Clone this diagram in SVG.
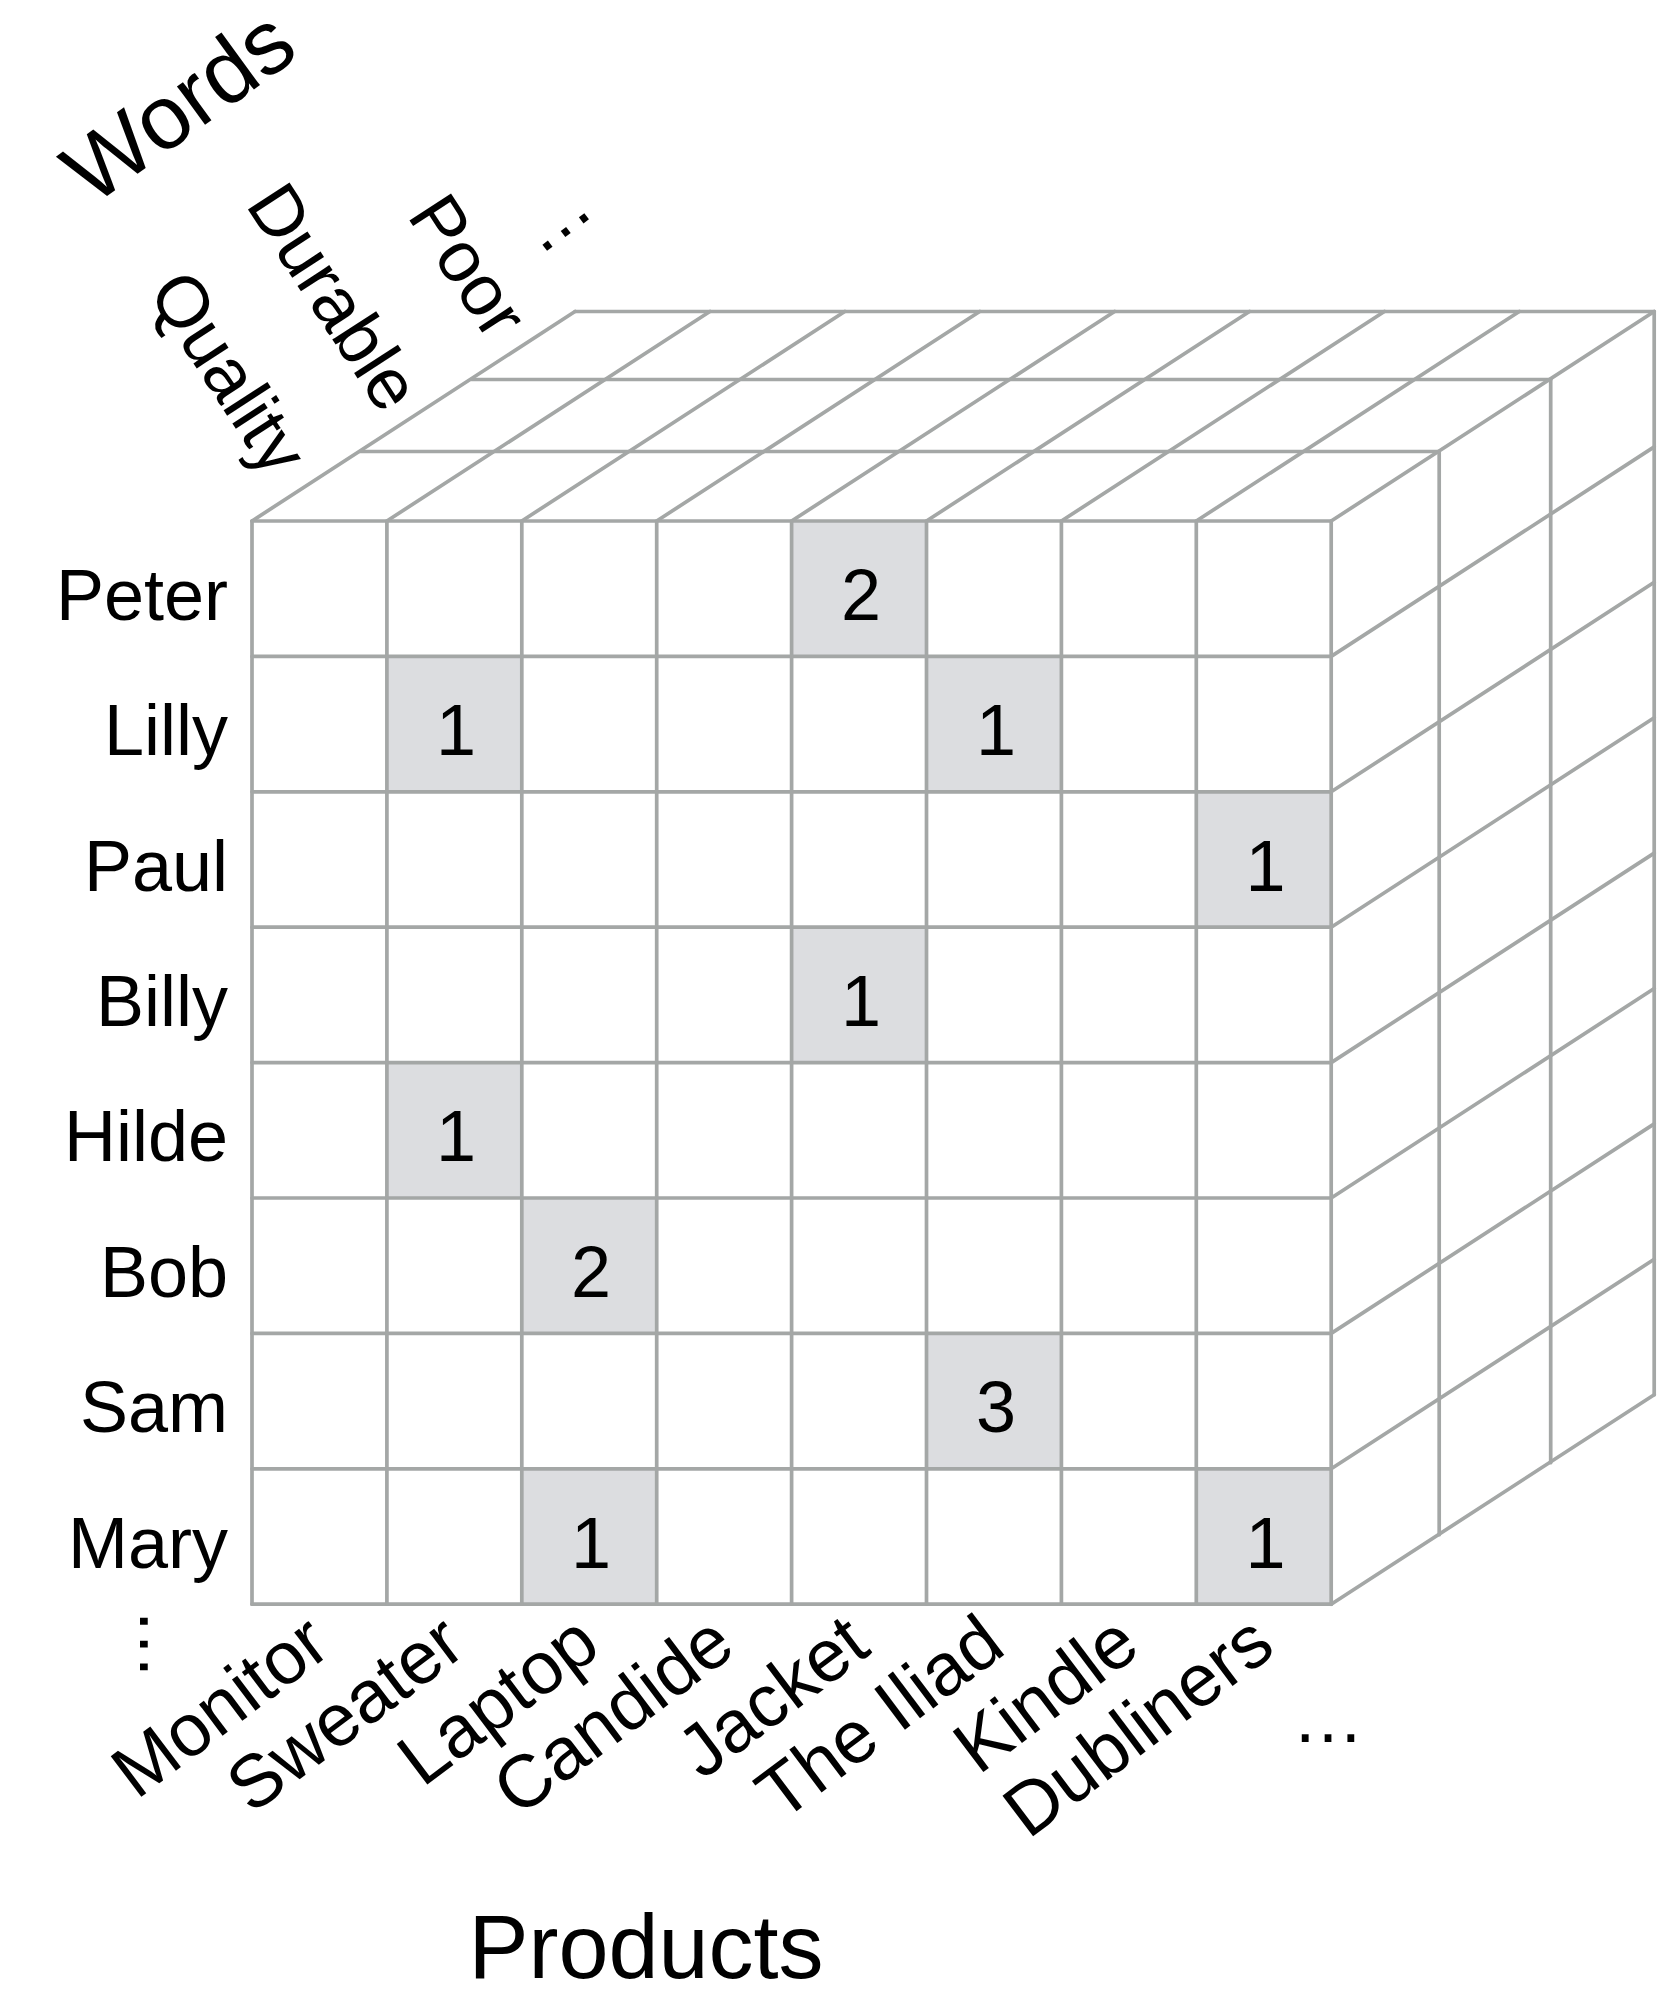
<svg xmlns="http://www.w3.org/2000/svg" width="1671" height="1990" viewBox="0 0 1671 1990">
<style>
.ln{stroke:#a4a7a6;stroke-width:3.7;fill:none;stroke-linecap:round;stroke-linejoin:round}
.sh{fill:#dcdde0}
.t{font-family:"Liberation Sans",Arial,sans-serif;font-size:72px;fill:#000}
.col{font-size:74px}
.big{font-size:90px}
.r{text-anchor:end}
.m{text-anchor:middle}
</style>
<rect x="0" y="0" width="1671" height="1990" fill="#fff"/>
<g id="shaded-cells">
<rect class="sh" x="791.6" y="521" width="134.9" height="135.4"/>
<rect class="sh" x="386.9" y="656.4" width="134.9" height="135.4"/>
<rect class="sh" x="926.5" y="656.4" width="134.9" height="135.4"/>
<rect class="sh" x="1196.3" y="791.8" width="134.9" height="135.4"/>
<rect class="sh" x="791.6" y="927.2" width="134.9" height="135.4"/>
<rect class="sh" x="386.9" y="1062.6" width="134.9" height="135.4"/>
<rect class="sh" x="521.8" y="1198" width="134.9" height="135.4"/>
<rect class="sh" x="926.5" y="1333.4" width="134.9" height="135.4"/>
<rect class="sh" x="521.8" y="1468.8" width="134.9" height="135.4"/>
<rect class="sh" x="1196.3" y="1468.8" width="134.9" height="135.4"/>
</g>
<g id="cube-lines" class="ln">
<path d="M360 451.5H1439.2M471.5 379.5H1550.7M575 311.5H1654.2"/>
<path d="M252 521L575 311.5M386.9 521L709.9 311.5M521.8 521L844.8 311.5M656.7 521L979.7 311.5M791.6 521L1114.6 311.5M926.5 521L1249.5 311.5M1061.4 521L1384.4 311.5M1196.3 521L1519.3 311.5M1331.2 521L1654.2 311.5"/>
<path d="M1439.2 451.5V1534.7M1550.7 379.5V1462.7M1654.2 311.5V1394.7"/>
<path d="M1331.2 656.4L1654.2 446.9M1331.2 791.8L1654.2 582.3M1331.2 927.2L1654.2 717.7M1331.2 1062.6L1654.2 853.1M1331.2 1198L1654.2 988.5M1331.2 1333.4L1654.2 1123.9M1331.2 1468.8L1654.2 1259.3M1331.2 1604.2L1654.2 1394.7"/>
<path d="M252 521H1331.2M252 656.4H1331.2M252 791.8H1331.2M252 927.2H1331.2M252 1062.6H1331.2M252 1198H1331.2M252 1333.4H1331.2M252 1468.8H1331.2M252 1604.2H1331.2"/>
<path d="M252 521V1604.2M386.9 521V1604.2M521.8 521V1604.2M656.7 521V1604.2M791.6 521V1604.2M926.5 521V1604.2M1061.4 521V1604.2M1196.3 521V1604.2M1331.2 521V1604.2"/>
</g>
<g id="cell-values" class="t m">
<text x="861" y="619.7">2</text>
<text x="456" y="755.1">1</text>
<text x="996" y="755.1">1</text>
<text x="1265.5" y="890.5">1</text>
<text x="861" y="1025.9">1</text>
<text x="456" y="1161.3">1</text>
<text x="591" y="1296.7">2</text>
<text x="996" y="1432.1">3</text>
<text x="591" y="1567.5">1</text>
<text x="1265.5" y="1567.5">1</text>
</g>
<g id="row-labels" class="t r">
<text x="228" y="619.7">Peter</text>
<text x="228" y="755.1">Lilly</text>
<text x="228" y="890.5">Paul</text>
<text x="228" y="1025.9">Billy</text>
<text x="228" y="1161.3">Hilde</text>
<text x="228" y="1296.7">Bob</text>
<text x="228" y="1432.1">Sam</text>
<text x="228" y="1567.5">Mary</text>
</g>
<text id="row-more" class="t m" transform="translate(139.5,1644) rotate(90)">…</text>
<g id="column-labels" class="t col r">
<text transform="translate(333.5,1652) rotate(-37)">Monitor</text>
<text transform="translate(468.4,1652) rotate(-37)">Sweater</text>
<text transform="translate(603.2,1652) rotate(-37)">Laptop</text>
<text transform="translate(738.2,1652) rotate(-37)">Candide</text>
<text transform="translate(873,1652) rotate(-37)">Jacket</text>
<text transform="translate(1008,1652) rotate(-37)">The Iliad</text>
<text transform="translate(1142.8,1652) rotate(-37)">Kindle</text>
<text transform="translate(1277.8,1652) rotate(-37)">Dubliners</text>
</g>
<text id="column-more" class="t m" x="1328" y="1742">…</text>
<g id="word-labels" class="t r">
<text transform="translate(269,480) rotate(57)">Quality</text>
<text transform="translate(382,416) rotate(57)">Durable</text>
<text transform="translate(489,343) rotate(57)">Poor</text>
</g>
<text id="word-more" class="t m" transform="translate(568,235) rotate(-37)">…</text>
<text id="axis-words" class="t big" transform="translate(92,207) rotate(-36)">Words</text>
<text id="axis-products" class="t big m" x="646" y="1978">Products</text>
</svg>
